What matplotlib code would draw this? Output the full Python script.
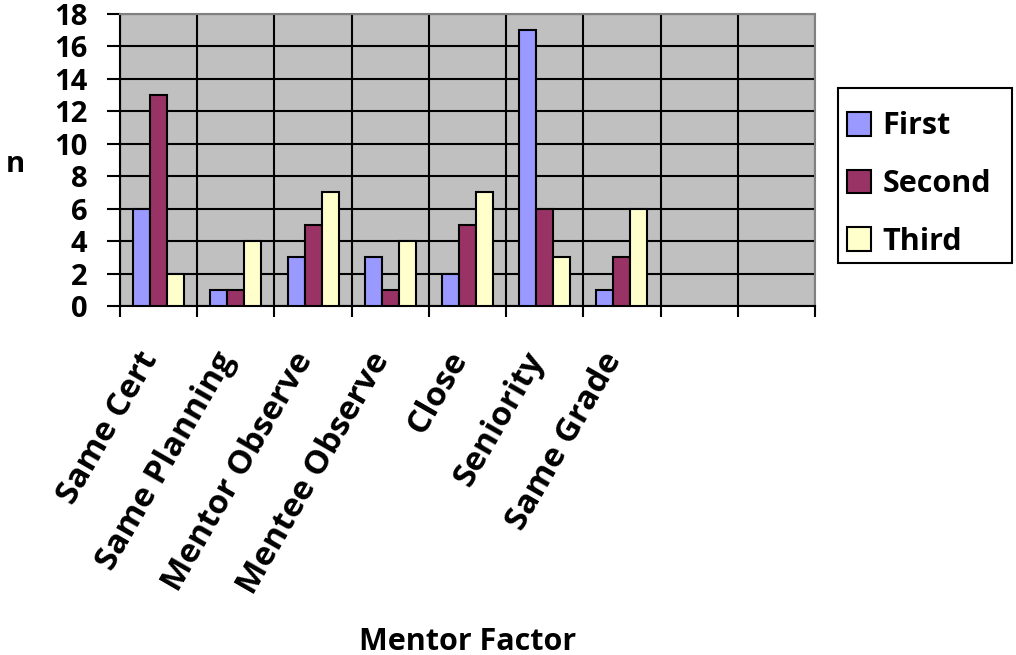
import matplotlib

matplotlib.use("Agg")

import matplotlib.pyplot as plt
import numpy as np
from matplotlib.patches import Patch, Rectangle

plt.rcParams["font.family"] = ["Open Sans", "DejaVu Sans"]
plt.rcParams["font.weight"] = "bold"

CATEGORIES = [
    "Same Cert",
    "Same Planning",
    "Mentor Observe",
    "Mentee Observe",
    "Close",
    "Seniority",
    "Same Grade",
    "",
    "",
]
FIRST = [6, 1, 3, 3, 2, 17, 1]
SECOND = [13, 1, 5, 1, 5, 6, 3]
THIRD = [2, 4, 7, 4, 7, 3, 6]
SERIES = ["First", "Second", "Third"]
COLORS = ["#9999FF", "#993366", "#FFFFCC"]

W, H = 1016, 655
fig = plt.figure(figsize=(W / 100, H / 100), dpi=100)
ax = fig.add_axes([120 / W, 1 - 306 / H, 695 / W, 292 / H])
ax.set_facecolor("#C0C0C0")

n_cat = len(CATEGORIES)
width = 0.22
x = np.arange(len(FIRST)) + 0.5
for i, (vals, color) in enumerate(zip([FIRST, SECOND, THIRD], COLORS)):
    ax.bar(x + (i - 1) * width, vals, width=width, color=color,
           edgecolor="black", linewidth=1.5, zorder=3)

ax.set_xlim(0, n_cat)
ax.set_ylim(0, 18)
ax.set_yticks(range(0, 19, 2))
ax.set_xticks(range(0, n_cat + 1))
ax.set_xticklabels([])
ax.set_xticks(np.arange(n_cat) + 0.4, minor=True)
ax.set_xticklabels(CATEGORIES, minor=True, rotation=60, ha="right",
                   va="center", rotation_mode="anchor", fontsize=24, fontweight="bold")
ax.tick_params(axis="x", which="minor", length=0, pad=35)
ax.tick_params(axis="x", which="major", length=8, width=1.5, direction="out")
ax.tick_params(axis="y", length=9.5, width=1.5, direction="out", labelsize=21, pad=14)
for lab in ax.get_yticklabels():
    lab.set_fontweight("bold")

ax.grid(True, which="major", color="black", linewidth=1.5, zorder=1)
ax.set_axisbelow(True)
for side in ["top", "right"]:
    ax.spines[side].set_color("#808080")
    ax.spines[side].set_linewidth(1.5)
for side in ["left", "bottom"]:
    ax.spines[side].set_color("black")
    ax.spines[side].set_linewidth(1.5)

fig.text(15 / W, 1 - 165 / H, "n", fontsize=21, fontweight="bold",
         ha="center", va="center")
fig.text(468 / W, 1 - 650 / H, "Mentor Factor", fontsize=22,
         fontweight="bold", ha="center", va="baseline")

# legend box drawn by hand so the padding can differ per side
fig.patches.append(Rectangle((838 / W, 1 - 263 / H), 174 / W, 175 / H,
                             transform=fig.transFigure, facecolor="white",
                             edgecolor="black", linewidth=1.5, zorder=2))
handles = [Patch(facecolor=c, edgecolor="black", linewidth=1.5) for c in COLORS]
leg = fig.legend(handles, SERIES, loc="center left",
                 bbox_to_anchor=(847 / W, 1 - 184 / H),
                 prop={"size": 22, "weight": "bold"}, frameon=False,
                 handlelength=0.8, handleheight=0.8, handletextpad=0.35,
                 labelspacing=0.9, borderpad=0, borderaxespad=0)
leg.set_zorder(3)

fig.savefig("out.png", dpi=100)
